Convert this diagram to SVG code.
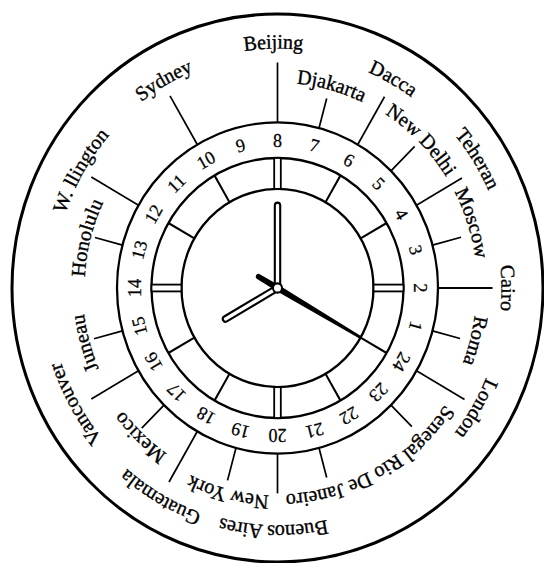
<svg xmlns="http://www.w3.org/2000/svg" xmlns:xlink="http://www.w3.org/1999/xlink" width="544" height="563" viewBox="0 0 544 563">
<style>
.ring{fill:none;stroke:#000}
.lead{stroke:#000;stroke-width:1.7;fill:none}
.div{stroke:#000;stroke-width:2;fill:none}
.dbl{fill:#fff;stroke:#000;stroke-width:1.8}
.num{font-family:"Liberation Serif","Times New Roman",serif;font-size:18px;text-anchor:middle;fill:#000;stroke:#000;stroke-width:0.25}
.city{font-family:"Liberation Serif","Times New Roman",serif;font-size:20px;text-anchor:middle;fill:#000;stroke:#000;stroke-width:0.35}
</style>
<defs>
<path id="p-beijing" d="M0,232 A232,232 0 1 1 0,-232 A232,232 0 1 1 0,232"/>
<path id="p-djakarta" d="M0,199 A199,199 0 1 1 0,-199 A199,199 0 1 1 0,199"/>
<path id="p-dacca" d="M0,228 A228,228 0 1 1 0,-228 A228,228 0 1 1 0,228"/>
<path id="p-newdelhi" d="M0,200 A200,200 0 1 1 0,-200 A200,200 0 1 1 0,200"/>
<path id="p-teheran" d="M0,231 A231,231 0 1 1 0,-231 A231,231 0 1 1 0,231"/>
<path id="p-moscow" d="M0,200 A200,200 0 1 1 0,-200 A200,200 0 1 1 0,200"/>
<path id="p-cairo" d="M0,224 A224,224 0 1 1 0,-224 A224,224 0 1 1 0,224"/>
<path id="p-roma" d="M0,199 A199,199 0 1 1 0,-199 A199,199 0 1 1 0,199"/>
<path id="p-london" d="M0,226 A226,226 0 1 1 0,-226 A226,226 0 1 1 0,226"/>
<path id="p-vancouver" d="M0,228 A228,228 0 1 1 0,-228 A228,228 0 1 1 0,228"/>
<path id="p-juneau" d="M0,195 A195,195 0 1 1 0,-195 A195,195 0 1 1 0,195"/>
<path id="p-honolulu" d="M0,193 A193,193 0 1 1 0,-193 A193,193 0 1 1 0,193"/>
<path id="p-wellington" d="M0,224 A224,224 0 1 1 0,-224 A224,224 0 1 1 0,224"/>
<path id="p-sydney" d="M0,226 A226,226 0 1 1 0,-226 A226,226 0 1 1 0,226"/>
<path id="p-senegal" d="M0,-202 A202,202 0 1 1 0,202 A202,202 0 1 1 0,-202"/>
<path id="p-rio" d="M0,-200 A200,200 0 1 1 0,200 A200,200 0 1 1 0,-200"/>
<path id="p-buenos" d="M0,-230 A230,230 0 1 1 0,230 A230,230 0 1 1 0,-230"/>
<path id="p-newyork" d="M0,-201 A201,201 0 1 1 0,201 A201,201 0 1 1 0,-201"/>
<path id="p-guatemala" d="M0,-231 A231,231 0 1 1 0,231 A231,231 0 1 1 0,-231"/>
<path id="p-mexico" d="M0,-195 A195,195 0 1 1 0,195 A195,195 0 1 1 0,-195"/>
</defs>
<rect width="544" height="563" fill="#fff"/>
<g transform="translate(277.5,288) scale(1,1.032)">
  <g id="dial">
    <circle class="ring" r="265.5" stroke-width="3"/>
    <circle class="ring" r="160.5" stroke-width="2.3"/>
    <circle class="ring" r="126" stroke-width="2.3"/>
    <circle class="ring" r="96" stroke-width="2.3"/>
  </g>
  <g id="sector-marks">
    <line class="div" x1="0" y1="-96" x2="0" y2="-126" transform="rotate(60)"/>
    <line class="div" x1="0" y1="-96" x2="0" y2="-126" transform="rotate(30)"/>
    <line class="div" x1="0" y1="-96" x2="0" y2="-126" transform="rotate(-30)"/>
    <line class="div" x1="0" y1="-96" x2="0" y2="-126" transform="rotate(-60)"/>
    <line class="div" x1="0" y1="-96" x2="0" y2="-126" transform="rotate(-120)"/>
    <line class="div" x1="0" y1="-96" x2="0" y2="-126" transform="rotate(-150)"/>
    <line class="div" x1="0" y1="-96" x2="0" y2="-126" transform="rotate(150)"/>
    <line class="div" x1="0" y1="-96" x2="0" y2="-126" transform="rotate(120)"/>
    <rect class="dbl" x="-3.3" y="-126" width="6.6" height="30" transform="rotate(0)"/>
    <rect class="dbl" x="-3.3" y="-126" width="6.6" height="30" transform="rotate(90)"/>
    <rect class="dbl" x="-3.3" y="-126" width="6.6" height="30" transform="rotate(180)"/>
    <rect class="dbl" x="-3.3" y="-126" width="6.6" height="30" transform="rotate(-90)"/>
  </g>
  <g id="hours">
    <text class="num" x="0" y="-137" transform="rotate(105)">1</text>
    <text class="num" x="0" y="-137" transform="rotate(90)">2</text>
    <text class="num" x="0" y="-137" transform="rotate(75)">3</text>
    <text class="num" x="0" y="-137" transform="rotate(60)">4</text>
    <text class="num" x="0" y="-137" transform="rotate(45)">5</text>
    <text class="num" x="0" y="-137" transform="rotate(30)">6</text>
    <text class="num" x="0" y="-137" transform="rotate(15)">7</text>
    <text class="num" x="0" y="-137" transform="rotate(0)">8</text>
    <text class="num" x="0" y="-137" transform="rotate(-15)">9</text>
    <text class="num" x="0" y="-137" transform="rotate(-30)">10</text>
    <text class="num" x="0" y="-137" transform="rotate(-45)">11</text>
    <text class="num" x="0" y="-137" transform="rotate(-60)">12</text>
    <text class="num" x="0" y="-137" transform="rotate(-75)">13</text>
    <text class="num" x="0" y="-137" transform="rotate(-90)">14</text>
    <text class="num" x="0" y="-137" transform="rotate(-105)">15</text>
    <text class="num" x="0" y="-137" transform="rotate(-120)">16</text>
    <text class="num" x="0" y="-137" transform="rotate(-135)">17</text>
    <text class="num" x="0" y="-137" transform="rotate(-150)">18</text>
    <text class="num" x="0" y="-137" transform="rotate(-165)">19</text>
    <text class="num" x="0" y="-137" transform="rotate(180)">20</text>
    <text class="num" x="0" y="-137" transform="rotate(165)">21</text>
    <text class="num" x="0" y="-137" transform="rotate(150)">22</text>
    <text class="num" x="0" y="-137" transform="rotate(135)">23</text>
    <text class="num" x="0" y="-137" transform="rotate(120)">24</text>
  </g>
  <g id="connectors">
    <line class="lead" x1="0" y1="-160.5" x2="0" y2="-218.5" transform="rotate(0)"/>
    <line class="lead" x1="0" y1="-160.5" x2="0" y2="-190" transform="rotate(15)"/>
    <line class="lead" x1="0" y1="-160.5" x2="0" y2="-214" transform="rotate(30)"/>
    <line class="lead" x1="0" y1="-160.5" x2="0" y2="-194" transform="rotate(45)"/>
    <line class="lead" x1="0" y1="-160.5" x2="0" y2="-213" transform="rotate(60)"/>
    <line class="lead" x1="0" y1="-160.5" x2="0" y2="-190" transform="rotate(75)"/>
    <line class="lead" x1="0" y1="-160.5" x2="0" y2="-215" transform="rotate(90)"/>
    <line class="lead" x1="0" y1="-160.5" x2="0" y2="-189" transform="rotate(105)"/>
    <line class="lead" x1="0" y1="-160.5" x2="0" y2="-216" transform="rotate(120)"/>
    <line class="lead" x1="0" y1="-160.5" x2="0" y2="-190" transform="rotate(135)"/>
    <line class="lead" x1="0" y1="-160.5" x2="0" y2="-190" transform="rotate(165)"/>
    <line class="lead" x1="0" y1="-160.5" x2="0" y2="-199" transform="rotate(180)"/>
    <line class="lead" x1="0" y1="-160.5" x2="0" y2="-193" transform="rotate(-165)"/>
    <line class="lead" x1="0" y1="-160.5" x2="0" y2="-217" transform="rotate(-150)"/>
    <line class="lead" x1="0" y1="-160.5" x2="0" y2="-192" transform="rotate(-135)"/>
    <line class="lead" x1="0" y1="-160.5" x2="0" y2="-215" transform="rotate(-120)"/>
    <line class="lead" x1="0" y1="-160.5" x2="0" y2="-190" transform="rotate(-105)"/>
    <line class="lead" x1="0" y1="-160.5" x2="0" y2="-189" transform="rotate(-75)"/>
    <line class="lead" x1="0" y1="-160.5" x2="0" y2="-215" transform="rotate(-60)"/>
    <line class="lead" x1="0" y1="-160.5" x2="0" y2="-215" transform="rotate(-30)"/>
  </g>
  <g id="city-beijing"><text class="city"><textPath href="#p-beijing" xlink:href="#p-beijing" startOffset="49.72%">Beijing</textPath></text></g>
  <g id="city-djakarta"><text class="city"><textPath href="#p-djakarta" xlink:href="#p-djakarta" startOffset="54.28%">Djakarta</textPath></text></g>
  <g id="city-dacca"><text class="city"><textPath href="#p-dacca" xlink:href="#p-dacca" startOffset="58.25%">Dacca</textPath></text></g>
  <g id="city-newdelhi"><text class="city"><textPath href="#p-newdelhi" xlink:href="#p-newdelhi" startOffset="62.5%">New Delhi</textPath></text></g>
  <g id="city-teheran"><text class="city"><textPath href="#p-teheran" xlink:href="#p-teheran" startOffset="66.11%">Teheran</textPath></text></g>
  <g id="city-moscow"><text class="city"><textPath href="#p-moscow" xlink:href="#p-moscow" startOffset="70%">Moscow</textPath></text></g>
  <g id="city-cairo"><text class="city"><textPath href="#p-cairo" xlink:href="#p-cairo" startOffset="75%">Cairo</textPath></text></g>
  <g id="city-roma"><text class="city"><textPath href="#p-roma" xlink:href="#p-roma" startOffset="79.03%">Roma</textPath></text></g>
  <g id="city-london"><text class="city"><textPath href="#p-london" xlink:href="#p-london" startOffset="83.47%">London</textPath></text></g>
  <g id="city-senegal"><text class="city"><textPath href="#p-senegal" xlink:href="#p-senegal" startOffset="36.94%">Senegal</textPath></text></g>
  <g id="city-rio"><text class="city"><textPath href="#p-rio" xlink:href="#p-rio" startOffset="44.58%">Rio De Janeiro</textPath></text></g>
  <g id="city-buenosaires"><text class="city"><textPath href="#p-buenos" xlink:href="#p-buenos" startOffset="50.28%">Buenos Aires</textPath></text></g>
  <g id="city-newyork"><text class="city"><textPath href="#p-newyork" xlink:href="#p-newyork" startOffset="53.89%">New York</textPath></text></g>
  <g id="city-guatemala"><text class="city"><textPath href="#p-guatemala" xlink:href="#p-guatemala" startOffset="58.33%">Guatemala</textPath></text></g>
  <g id="city-mexico"><text class="city"><textPath href="#p-mexico" xlink:href="#p-mexico" startOffset="62.08%">Mexico</textPath></text></g>
  <g id="city-vancouver"><text class="city"><textPath href="#p-vancouver" xlink:href="#p-vancouver" startOffset="16.94%">Vancouver</textPath></text></g>
  <g id="city-juneau"><text class="city"><textPath href="#p-juneau" xlink:href="#p-juneau" startOffset="20.69%">Juneau</textPath></text></g>
  <g id="city-honolulu"><text class="city"><textPath href="#p-honolulu" xlink:href="#p-honolulu" startOffset="28.97%">Honolulu</textPath></text></g>
  <g id="city-wellington"><text class="city"><textPath href="#p-wellington" xlink:href="#p-wellington" startOffset="33.33%">W. llington</textPath></text></g>
  <g id="city-sydney"><text class="city"><textPath href="#p-sydney" xlink:href="#p-sydney" startOffset="41.81%">Sydney</textPath></text></g>
  <g id="hands">
    <g id="minute-hand">
      <line x1="0" y1="0" x2="0" y2="-80" stroke="#000" stroke-width="7.5" stroke-linecap="round"/>
      <line x1="0" y1="-4" x2="0" y2="-80" stroke="#fff" stroke-width="3.3" stroke-linecap="round"/>
    </g>
    <g id="hour-hand" transform="rotate(-120)">
      <line x1="0" y1="0" x2="0" y2="-60" stroke="#000" stroke-width="7.5" stroke-linecap="round"/>
      <line x1="0" y1="-4" x2="0" y2="-60" stroke="#fff" stroke-width="3.3" stroke-linecap="round"/>
    </g>
    <g id="day-hand" transform="rotate(120)">
      <path d="M-1.4,-96 L1.4,-96 L3,0 L2.6,22 A2.6,2.6 0 0 1 -2.6,22 L-3,0 Z" fill="#000"/>
    </g>
    <circle id="hub" r="4.5" fill="#fff" stroke="#000" stroke-width="2"/>
  </g>
</g>
</svg>
